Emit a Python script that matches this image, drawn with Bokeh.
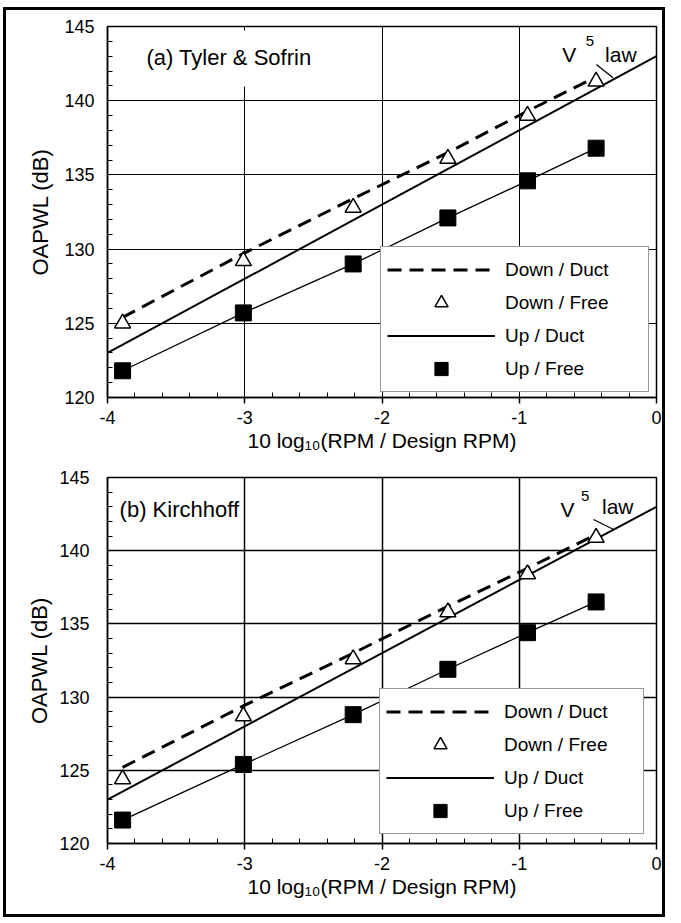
from bokeh.plotting import figure
from bokeh.layouts import column
from bokeh.models import Label, Legend, LegendItem, FixedTicker, Range1d, BoxAnnotation
from bokeh.embed import file_html
from bokeh.resources import INLINE

# ---------------- data ----------------
x_rpm = [-3.89, -3.01, -2.21, -1.52, -0.94, -0.44]

# (a) Tyler & Sofrin
a_down_duct = [125.4, 129.7, 133.4, 136.5, 139.3, 141.6]
a_down_free = [125.0, 129.2, 132.8, 136.1, 139.0, 141.3]
a_up_free = [121.8, 125.7, 129.0, 132.1, 134.6, 136.8]

# (b) Kirchhoff
b_down_duct = [125.2, 129.4, 133.0, 136.2, 138.8, 141.1]
b_down_free = [124.4, 128.7, 132.6, 135.8, 138.4, 140.9]
b_up_free = [121.6, 125.4, 128.8, 131.9, 134.4, 136.5]

# Up / Duct  (V^5 law)
v5_x = [-4, 0]
v5_y = [123, 143]

x_ticks = [-4, -3, -2, -1, 0]
x_tick_labels = ["-4", "-3", "-2", "-1", "0"]
y_ticks = [120, 125, 130, 135, 140, 145]
x_grid = [-3, -2, -1]
y_grid = [125, 130, 135, 140]

FONT = "Liberation Sans"


def make_panel(tag, tag_xy, tag_box, dd, df, uf, height, b_left, b_top, b_bottom,
               ylab_standoff, ytitle_standoff, leg_loc, leg_label_w, v5_lab, grid_w):
    p = figure(width=656, height=height, x_range=Range1d(-4, 0), y_range=Range1d(120, 145),
               output_backend="svg", toolbar_location=None,
               min_border_left=b_left, min_border_right=6,
               min_border_top=b_top, min_border_bottom=b_bottom)
    p.background_fill_color = "white"
    p.border_fill_color = "white"
    p.outline_line_color = "black"
    p.outline_line_width = 1.5

    # grid
    p.xgrid.ticker = FixedTicker(ticks=x_grid)
    p.ygrid.ticker = FixedTicker(ticks=y_grid)
    for g in (p.xgrid, p.ygrid):
        g.grid_line_color = "black"
        g.grid_line_width = grid_w

    # x axis
    xa = p.xaxis[0]
    xa.ticker = FixedTicker(ticks=x_ticks, minor_ticks=[-4 + 0.2 * i for i in range(21)])
    xa.major_label_overrides = dict(zip(x_ticks, x_tick_labels))
    xa.major_tick_in = 0
    xa.major_tick_out = 6
    xa.minor_tick_in = 5
    xa.minor_tick_out = 0
    xa.axis_label = "10 log\u2081\u2080(RPM / Design RPM)"
    xa.major_label_standoff = 7
    xa.axis_label_standoff = 2

    # y axis
    ya = p.yaxis[0]
    ya.ticker = FixedTicker(ticks=y_ticks, minor_ticks=list(range(120, 146)))
    ya.major_tick_in = 0
    ya.major_tick_out = 0
    ya.minor_tick_in = 5
    ya.minor_tick_out = 0
    ya.axis_label = "OAPWL (dB)"
    ya.major_label_standoff = ylab_standoff
    ya.axis_label_standoff = ytitle_standoff

    for ax in (xa, ya):
        ax.axis_line_color = "black"
        ax.axis_line_width = 1.5
        ax.major_tick_line_color = "black"
        ax.major_tick_line_width = 1.5
        ax.minor_tick_line_color = "black"
        ax.minor_tick_line_width = 1
        ax.major_label_text_font = FONT
        ax.major_label_text_font_size = "18px"
        ax.major_label_text_color = "black"
        ax.axis_label_text_font = FONT
        ax.axis_label_text_font_style = "normal"
        ax.axis_label_text_color = "black"
    xa.axis_label_text_font_size = "21px"
    ya.axis_label_text_font_size = "22px"

    # series
    r_dd = p.line(x_rpm, dd, line_color="black", line_width=3, line_dash="14 8")
    r_v5 = p.line(v5_x, v5_y, line_color="black", line_width=2)
    p.line(x_rpm, uf, line_color="black", line_width=1.3)
    r_df = p.scatter(x_rpm, df, marker="triangle", size=16, fill_color="white",
                     line_color="black", line_width=1.5)
    r_uf = p.scatter(x_rpm, uf, marker="square", size=16, fill_color="black",
                     line_color="black")

    # white patch behind the panel tag (hides the grid line there)
    if tag_box:
        p.add_layout(BoxAnnotation(left=tag_box[0], right=tag_box[1],
                                   bottom=tag_box[2], top=tag_box[3],
                                   fill_color="white", fill_alpha=1.0,
                                   line_color=None))
    tx, ty = tag_xy
    p.add_layout(Label(x=tx, y=ty, text=tag, text_font=FONT, text_font_size="22px",
                       text_align="left", text_baseline="middle", text_color="black"))

    # V^5 law annotation
    (vx, vy), (sx, sy), (lx, ly), (x0, y0, x1, y1) = v5_lab
    p.add_layout(Label(x=vx, y=vy, text="V", text_font=FONT, text_font_size="21px",
                       text_align="left", text_baseline="middle", text_color="black"))
    p.add_layout(Label(x=sx, y=sy, text="5", text_font=FONT, text_font_size="15px",
                       text_align="center", text_baseline="middle", text_color="black"))
    p.add_layout(Label(x=lx, y=ly, text="law", text_font=FONT, text_font_size="21px",
                       text_align="left", text_baseline="middle", text_color="black"))
    p.segment(x0=[x0], y0=[y0], x1=[x1], y1=[y1], line_color="black", line_width=1.3)

    legend = Legend(items=[
        LegendItem(label="Down / Duct", renderers=[r_dd]),
        LegendItem(label="Down / Free", renderers=[r_df]),
        LegendItem(label="Up / Duct", renderers=[r_v5]),
        LegendItem(label="Up / Free", renderers=[r_uf]),
    ], location=leg_loc)
    legend.margin = 0
    legend.padding = 6
    legend.spacing = 0
    legend.glyph_width = 108
    legend.glyph_height = 33
    legend.label_standoff = 10
    legend.label_width = leg_label_w
    legend.label_text_font = FONT
    legend.label_text_font_size = "19px"
    legend.label_text_color = "black"
    legend.border_line_color = "#333333"
    legend.border_line_width = 1.5
    legend.background_fill_color = "white"
    legend.background_fill_alpha = 1.0
    p.add_layout(legend, "center")
    return p


pa = make_panel("(a) Tyler & Sofrin", (-3.716, 142.92), (-3.75, -2.5, 140.96, 144.73),
                a_down_duct, a_down_free, a_up_free,
                height=453, b_left=92, b_top=16, b_bottom=66,
                ylab_standoff=13, ytitle_standoff=8,
                leg_loc=(273, 5), leg_label_w=137,
                v5_lab=((-0.686, 143.12), (-0.486, 144.01), (-0.375, 143.12),
                        (-0.438, 142.44, -0.317, 141.55)),
                grid_w=1)

pb = make_panel("(b) Kirchhoff", (-3.912, 142.8), None,
                b_down_duct, b_down_free, b_up_free,
                height=451, b_left=101, b_top=14, b_bottom=71,
                ylab_standoff=18, ytitle_standoff=4,
                leg_loc=(272, 9), leg_label_w=133,
                v5_lab=((-0.699, 142.8), (-0.52, 143.72), (-0.397, 143.05),
                        (-0.459, 142.13, -0.312, 141.45)),
                grid_w=1.5)

layout = column(pa, pb, spacing=0, width=662, height=910, margin=(7, 0, 0, 3),
                styles={"border": "3px solid black", "background-color": "white"})

open("out.html", "w").write(file_html(layout, INLINE))
